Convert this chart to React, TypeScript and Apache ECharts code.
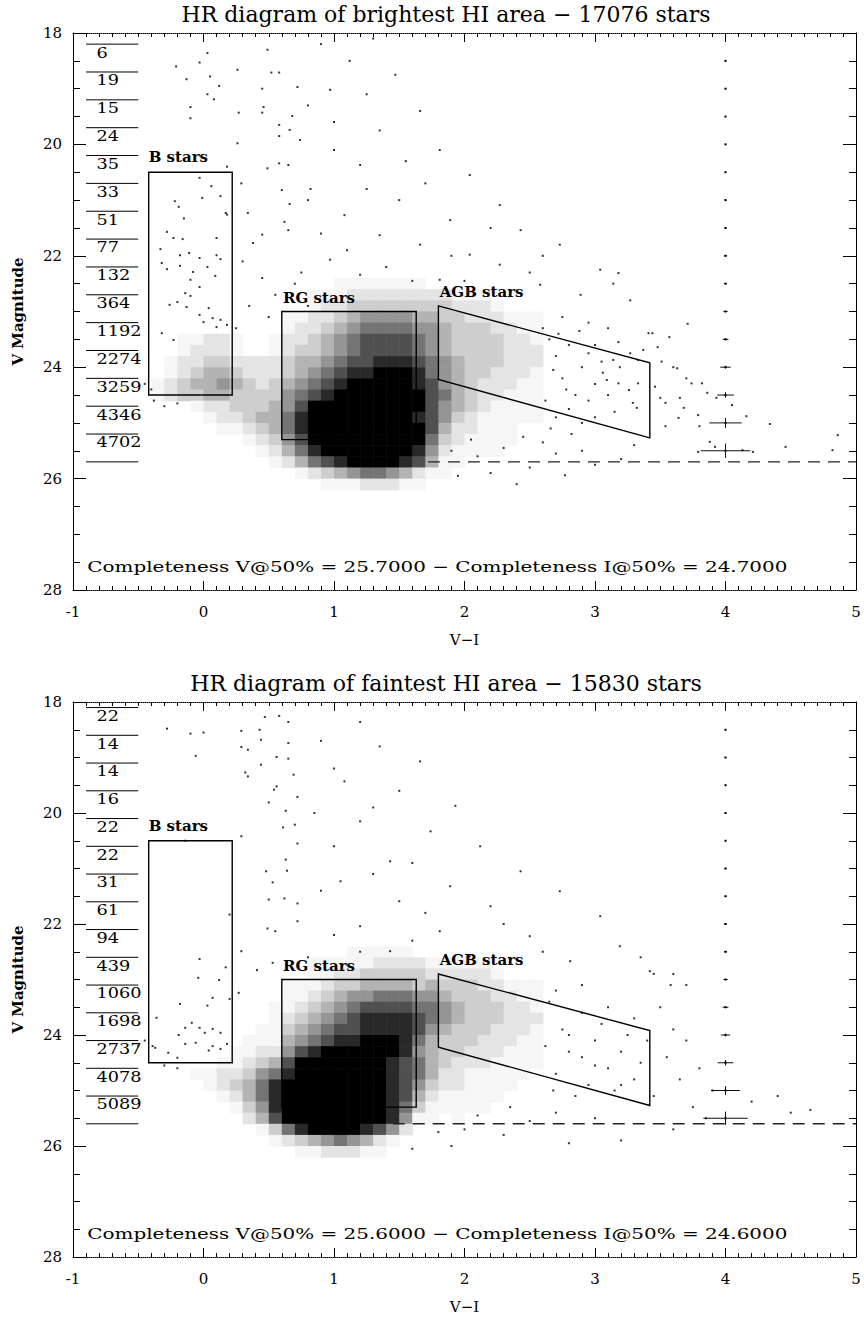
import React, { useEffect, useRef } from "react";
import * as echarts from "echarts";

const FONT = '"DejaVu Serif", "Liberation Serif", serif';

// ---------- axes ----------
const X_MIN = -1;
const X_MAX = 5;
const X_STEP = 1;
const V_MIN = 18;
const V_MAX = 28;
const V_STEP = 2;

// ---------- panel texts ----------
const panelTitles = [
  "HR diagram of brightest HI area \u2212 17076 stars",
  "HR diagram of faintest HI area \u2212 15830 stars",
];
const completenessV = [25.7, 25.6];
const completenessI = [24.7, 24.6];
const dashStartX = [1.72, 1.45];
const completenessTextX = -0.89;
const completenessTextV = 27.58;

// ---------- magnitude histogram (counts per 0.5 mag bin) ----------
const countBinStart = [18.2, 18.1];
const countBinWidth = 0.5;
const topCounts = [6, 19, 15, 24, 35, 33, 51, 77, 132, 364, 1192, 2274, 3259, 4346, 4702];
const bottomCounts = [22, 14, 14, 16, 22, 22, 31, 61, 94, 439, 1060, 1698, 2737, 4078, 5089];
const countLineX = [-0.9, -0.5];
const countLabelX = -0.82;

// ---------- selection boxes ----------
const boxNames = ["B stars", "RG stars", "AGB stars"];
const bBox = [[-0.42, 20.5], [0.22, 20.5], [0.22, 24.5], [-0.42, 24.5]];
const rgBox = [[0.6, 23.0], [1.63, 23.0], [1.63, 25.3], [0.6, 25.3]];
const agbBox = [[1.8, 22.9], [3.42, 23.92], [3.42, 25.27], [1.8, 24.22]];
const boxLabelX = [-0.42, 0.61, 1.81];
const boxLabelV = [20.23, 22.76, 22.65];

// ---------- photometric error bars at V-I = 4 ----------
const errX = 4;
const errV = [18.5, 19.0, 19.5, 20.0, 20.5, 21.0, 21.5, 22.0, 22.5, 23.0, 23.5, 24.0, 24.5, 25.0, 25.5];
const topErrX = [0.005, 0.005, 0.005, 0.005, 0.005, 0.008, 0.008, 0.012, 0.012, 0.016, 0.022, 0.04, 0.064, 0.124, 0.19];
const topErrV = [0.003, 0.003, 0.003, 0.003, 0.003, 0.003, 0.003, 0.005, 0.008, 0.01, 0.015, 0.025, 0.05, 0.09, 0.13];
const bottomErrX = [0.005, 0.005, 0.005, 0.005, 0.005, 0.008, 0.008, 0.012, 0.012, 0.016, 0.022, 0.035, 0.06, 0.11, 0.17];
const bottomErrV = [0.003, 0.003, 0.003, 0.003, 0.003, 0.003, 0.003, 0.005, 0.008, 0.01, 0.015, 0.025, 0.05, 0.08, 0.12];

// ---------- star density (dense regions) ----------
// one string per 0.2 mag row (from V=22.4 down), one digit (0-9) per 0.1 colour column (from V-I=-0.5)
const densityX0 = -0.5;
const densityV0 = 22.4;
const densityDX = 0.1;
const densityDV = 0.2;
const topDensity = [
  "0000000000000001111111000000000",
  "0000000000000111222222221110000",
  "0000000000000122333333332221000",
  "0000000000011223455554433222111",
  "0000000000012234566665543332211",
  "0001122100122345677776543333221",
  "0001222100123345677776543333222",
  "0012233222234456778887654333222",
  "0012344322234567889998654332221",
  "0123445432345678999998754322211",
  "0123344333356789999999764322111",
  "0000122333457999999999754321111",
  "0000012234468999999998753211111",
  "0000001123468999999999742211100",
  "0000000012357999999999632111100",
  "0000000001246899999998521111000",
  "0000000000124678999987411000000",
  "0000000000001234566542110000000",
  "0000000000000011122211000000000",
];
const bottomDensity = [
  "0000000000000000111110000000000",
  "0000000000000111112222111110000",
  "0000000000000112233333222221000",
  "0000000000011123344443433322111",
  "0000000000011234556665543332211",
  "0000000000112345677776654333221",
  "0000000000123456788887654333222",
  "0000000001134567788887543332221",
  "0000000011145678899986433322211",
  "0000000112257899999985433222111",
  "0000001123479999999876432221111",
  "0000112235689999999876422111110",
  "0000012346899999999875322111100",
  "0000001246899999999874211111000",
  "0000000135899999999863111110000",
  "0000000024799999999851101000000",
  "0000000001368999987520000000000",
  "0000000000123456542100000000000",
  "0000000000001122211000000000000",
];

// ---------- individual stars in the sparse regions [V-I, V] ----------
const topStars = [
  [0.03, 18.36], [-0.03, 18.53], [-0.21, 18.6], [0.49, 18.3], [0.26, 18.66], [0.05, 18.78], [0.12, 18.95], [-0.13, 18.83],
  [0.52, 18.71], [0.58, 18.71], [0.45, 19.0], [0.72, 18.97], [0.03, 19.1], [0.08, 19.19], [-0.1, 19.33], [-0.1, 19.53],
  [0.27, 19.43], [0.46, 19.33], [0.45, 19.43], [0.68, 19.49], [0.58, 19.65], [0.66, 19.74], [0.58, 19.85], [0.26, 19.98],
  [0.49, 20.43], [0.58, 20.34], [0.65, 20.37], [0.18, 20.4], [0.29, 20.7], [0.6, 20.82], [0.66, 21.07], [0.34, 21.23],
  [0.45, 21.62], [0.38, 21.77], [0.62, 21.39], [0.65, 21.54],
  [1.12, 18.5], [1.47, 18.75], [0.97, 19.02], [1.66, 19.4], [1.35, 19.75], [0.74, 19.92], [1.81, 20.1], [1.2, 20.37],
  [2.04, 20.55], [0.82, 20.8], [1.5, 21.0], [2.27, 21.09], [1.08, 21.27], [1.89, 21.36], [2.43, 21.54], [1.35, 21.63],
  [1.66, 21.8], [2.73, 21.8], [2.04, 21.98], [0.97, 22.07], [2.27, 22.16], [3.04, 22.25], [1.2, 22.34], [1.81, 22.43],
  [2.58, 22.52], [3.27, 22.8], [2.89, 22.7], [3.18, 22.31], [3.14, 22.5],
  [0.9, 18.2], [1.3, 18.1], [0.8, 19.3], [1.0, 19.6], [1.25, 19.1], [1.55, 20.3], [1.0, 20.1], [0.9, 21.6], [1.1, 21.9],
  [1.7, 20.7], [2.2, 21.5], [1.4, 22.2], [1.9, 22.0], [0.75, 22.3], [1.6, 22.45], [2.5, 22.3], [2.0, 22.45], [0.8, 21.0],
  [1.25, 20.8], [2.6, 22.0],
  [-0.03, 20.6], [0.06, 20.75], [-0.01, 20.96], [0.13, 20.93], [-0.22, 21.02], [-0.19, 21.12], [-0.15, 21.33], [0.17, 21.23],
  [0.18, 21.26], [-0.28, 21.57], [-0.23, 21.68], [-0.16, 21.7], [0.1, 21.68], [-0.33, 21.88], [-0.18, 21.99], [-0.11, 21.95],
  [-0.03, 22.04], [0.1, 21.99], [0.13, 22.06], [-0.32, 22.13], [-0.28, 22.24], [-0.18, 22.18], [-0.08, 22.29], [0.03, 22.2],
  [0.09, 22.36], [-0.1, 22.43], [-0.03, 22.56], [-0.14, 22.67], [-0.1, 22.72], [-0.2, 22.83], [-0.26, 22.88], [-0.13, 22.92],
  [0.04, 22.94], [-0.03, 23.06], [0.07, 23.12], [0.13, 23.15], [0.0, 23.19], [0.1, 23.28], [0.18, 23.24], [-0.23, 23.51],
  [-0.32, 23.39],
  [0.3, 22.1], [0.45, 22.4], [0.35, 22.9], [0.5, 23.1], [0.25, 23.3], [0.55, 22.7], [0.7, 22.5], [0.8, 22.9],
  [2.65, 23.5], [2.7, 23.8], [2.75, 24.2], [2.8, 23.6], [2.85, 24.5], [2.9, 24.0], [2.95, 23.75], [3.0, 24.3], [2.62, 24.6],
  [2.7, 24.9], [2.8, 24.75], [3.0, 24.9], [3.05, 23.9], [2.9, 25.0], [2.68, 24.05], [2.78, 24.4], [2.95, 24.6], [3.1, 24.5],
  [2.6, 23.3], [2.72, 23.4], [2.88, 23.35], [3.0, 23.6], [2.66, 25.1], [2.82, 25.2], [3.14, 23.87], [3.19, 24.0], [3.27, 23.75],
  [3.33, 23.87], [3.37, 23.69], [3.09, 24.23], [3.18, 24.29], [3.26, 24.41], [3.33, 24.29], [3.29, 24.64], [3.32, 24.73],
  [3.15, 24.8], [3.06, 24.1], [3.41, 23.39], [3.18, 23.55], [2.75, 23.1], [2.95, 23.2], [3.1, 23.3],
  [3.71, 23.22], [3.44, 23.39], [3.48, 23.64], [3.57, 23.46], [3.51, 23.9], [3.6, 24.0], [3.63, 24.02], [3.7, 24.2],
  [3.74, 24.29], [3.82, 24.29], [3.46, 24.35], [3.5, 24.55], [3.54, 24.64], [3.65, 24.55], [3.68, 24.73], [3.64, 24.91],
  [3.54, 25.06], [3.79, 24.86], [3.8, 25.06], [3.86, 24.46], [3.93, 24.55], [4.05, 24.68], [4.16, 24.88], [4.34, 25.02],
  [3.79, 25.52], [3.88, 25.34], [3.92, 25.43], [4.13, 25.49], [4.21, 25.52], [4.46, 25.43], [4.82, 25.49], [4.86, 25.22],
  [1.9, 25.5], [2.1, 25.6], [2.3, 25.45], [2.5, 25.8], [2.7, 25.55], [2.9, 25.5], [3.2, 25.65], [2.2, 25.9], [3.0, 25.75],
  [2.4, 26.1], [1.95, 25.95], [2.77, 25.94], [2.6, 25.35], [3.3, 25.4], [2.05, 25.3], [2.45, 25.25],
  [-0.38, 24.6], [-0.3, 24.7], [-0.2, 24.65], [-0.45, 24.3], [-0.4, 24.4],
];
const bottomStars = [
  [-0.28, 18.48], [-0.1, 18.57], [0.0, 18.55], [-0.06, 18.97], [0.29, 18.52], [0.43, 18.5], [0.44, 18.68], [0.29, 18.81],
  [0.34, 18.86], [0.47, 18.27], [0.58, 18.25], [0.65, 18.36], [0.65, 18.74], [0.56, 18.99], [0.44, 19.13], [0.65, 19.02],
  [0.32, 19.27], [0.34, 19.34], [0.69, 19.31], [0.56, 19.52], [0.54, 19.58], [0.5, 19.81], [0.72, 19.71], [0.63, 19.96],
  [0.61, 20.26], [0.7, 20.21], [0.29, 20.42], [0.72, 20.55], [0.63, 20.84], [0.48, 21.05], [0.64, 21.04], [0.53, 21.25],
  [-0.14, 20.5],
  [0.5, 21.56], [0.62, 21.54], [0.72, 21.63], [0.2, 21.83], [0.72, 21.95], [0.49, 22.08], [0.55, 22.13], [0.29, 22.49],
  [0.41, 22.83], [0.53, 22.7], [-0.03, 22.63], [0.17, 22.78], [-0.04, 22.97], [0.12, 23.01], [0.27, 23.24], [0.07, 23.33],
  [-0.18, 23.44], [0.03, 23.47], [0.2, 23.35], [-0.36, 23.69], [-0.09, 23.78], [-0.14, 23.87], [-0.03, 23.87], [0.07, 23.89],
  [-0.19, 24.0], [0.01, 23.96], [0.13, 23.96], [-0.14, 24.16], [-0.06, 24.14], [0.07, 24.2], [0.13, 24.25], [0.18, 24.16],
  [0.04, 24.28], [-0.27, 24.32], [-0.2, 24.41], [-0.37, 24.23], [-0.39, 24.2],
  [1.2, 18.36], [1.35, 18.8], [1.66, 19.07], [1.08, 19.43], [1.5, 19.6], [1.93, 19.87], [1.2, 20.15], [1.74, 20.33],
  [2.12, 20.6], [1.43, 20.87], [2.43, 21.05], [1.05, 21.23], [1.89, 21.32], [2.73, 21.41], [1.5, 21.59], [2.2, 21.68],
  [3.04, 21.86], [1.2, 22.04], [1.81, 22.13], [2.5, 22.22], [3.19, 22.4], [1.43, 22.49], [2.04, 22.58], [2.81, 22.67],
  [3.42, 22.85],
  [0.9, 18.7], [1.0, 19.2], [0.85, 20.0], [1.3, 19.9], [1.0, 20.6], [1.6, 20.9], [0.9, 21.4], [1.3, 21.1], [1.7, 21.8],
  [2.3, 22.0], [1.0, 22.2], [1.6, 22.3], [2.6, 22.5], [0.8, 22.6], [1.2, 22.5], [3.35, 22.6], [3.6, 22.9], [3.7, 23.1],
  [2.65, 23.4], [2.75, 23.9], [2.8, 24.3], [2.9, 23.6], [3.0, 24.1], [3.1, 24.6], [2.7, 24.7], [2.95, 24.9], [3.2, 24.3],
  [3.3, 24.8], [2.85, 25.1], [3.05, 23.8], [3.25, 24.0], [2.62, 24.2], [3.15, 25.0], [3.35, 24.5], [3.5, 23.5], [3.6, 23.9],
  [3.55, 24.4], [3.7, 24.1], [3.65, 24.8], [3.8, 24.6], [3.45, 25.1], [3.75, 25.3], [3.9, 25.0], [4.2, 25.2], [4.5, 25.4],
  [4.65, 25.35], [3.58, 23.1], [3.45, 22.9], [3.85, 25.5], [3.6, 25.7], [4.4, 25.1], [2.7, 23.2], [2.9, 23.1], [3.1, 23.5],
  [3.3, 23.7], [2.8, 24.0], [3.0, 24.55], [2.68, 25.0], [3.2, 24.9], [2.9, 24.4], [3.4, 24.1],
  [1.8, 25.75], [2.0, 25.7], [2.3, 25.8], [2.8, 25.95], [3.2, 25.9], [1.6, 26.05], [1.9, 26.0], [2.1, 25.45], [2.5, 25.55],
  [2.7, 25.4], [3.0, 25.5], [2.35, 25.3],
  [-0.45, 24.1], [-0.5, 24.2], [-0.3, 24.55], [-0.2, 24.6],
];

// ---------- per-panel data bundles ----------
const panels = [
  { title: panelTitles[0], density: topDensity, stars: topStars, counts: topCounts, binStart: countBinStart[0], errX: topErrX, errV: topErrV, compV: completenessV[0], compI: completenessI[0], dashX: dashStartX[0] },
  { title: panelTitles[1], density: bottomDensity, stars: bottomStars, counts: bottomCounts, binStart: countBinStart[1], errX: bottomErrX, errV: bottomErrV, compV: completenessV[1], compI: completenessI[1], dashX: dashStartX[1] },
];
const boxes = [bBox, rgBox, agbBox];

function densityCells(rows: string[]) {
  const out: number[][] = [];
  rows.forEach((row, r) => {
    for (let c = 0; c < row.length; c++) {
      const d = Number(row[c]);
      if (d > 0) out.push([+(densityX0 + c * densityDX).toFixed(2), +(densityV0 + r * densityDV).toFixed(2), d]);
    }
  });
  return out;
}

const GRID_TOPS = [33, 702];
const GRID_HEIGHTS = [557, 555];

function xAxes(gi: number) {
  const common = {
    type: "value",
    gridIndex: gi,
    min: X_MIN,
    max: X_MAX,
    interval: X_STEP,
    axisLine: { show: true, onZero: false, lineStyle: { color: "#000", width: 1, type: "dotted" } },
    axisTick: { show: true, inside: true, length: 9, lineStyle: { color: "#000", width: 1 } },
    minorTick: { show: true, splitNumber: 10, length: 4, lineStyle: { color: "#000", width: 1 } },
    splitLine: { show: false },
    minorSplitLine: { show: false },
  };
  return [
    {
      ...common,
      position: "bottom",
      name: "V\u2212I",
      nameLocation: "middle",
      nameGap: 42,
      nameTextStyle: { fontFamily: FONT, fontSize: 15, color: "#000" },
      axisLabel: { show: true, fontFamily: FONT, fontSize: 15, color: "#000", margin: 14 },
    },
    { ...common, position: "top", axisLabel: { show: false } },
  ];
}

function yAxes(gi: number) {
  const common = {
    type: "value",
    gridIndex: gi,
    inverse: true,
    min: V_MIN,
    max: V_MAX,
    interval: V_STEP,
    axisLine: { show: true, onZero: false, lineStyle: { color: "#000", width: 1 } },
    axisTick: { show: true, inside: true, length: 13, lineStyle: { color: "#000", width: 1 } },
    minorTick: { show: true, splitNumber: 4, length: 7, lineStyle: { color: "#000", width: 1 } },
    splitLine: { show: false },
    minorSplitLine: { show: false },
  };
  return [
    {
      ...common,
      position: "left",
      name: "V Magnitude",
      nameLocation: "middle",
      nameGap: 48,
      nameTextStyle: { fontFamily: FONT, fontSize: 15, fontWeight: "bold", color: "#000" },
      axisLabel: { show: true, fontFamily: FONT, fontSize: 15, color: "#000", margin: 11 },
    },
    { ...common, position: "right", axisLabel: { show: false } },
  ];
}

function panelSeries(p: number) {
  const P = panels[p];
  const ax = { xAxisIndex: 2 * p, yAxisIndex: 2 * p };
  const series: any[] = [];

  // density cells
  series.push({
    type: "custom",
    ...ax,
    silent: true,
    data: densityCells(P.density),
    renderItem: (params: any, api: any) => {
      const x = api.value(0);
      const v = api.value(1);
      const d = api.value(2);
      const a = api.coord([x, v]);
      const b = api.coord([x + densityDX, v + densityDV]);
      const g = Math.round(255 * (1 - Math.pow(d / 9, 1.5)));
      return {
        type: "rect",
        shape: {
          x: Math.min(a[0], b[0]),
          y: Math.min(a[1], b[1]),
          width: Math.abs(b[0] - a[0]) + 0.6,
          height: Math.abs(b[1] - a[1]) + 0.6,
        },
        style: { fill: `rgb(${g},${g},${g})` },
      };
    },
  });

  // individual stars
  series.push({
    type: "scatter",
    ...ax,
    silent: true,
    symbol: "rect",
    symbolSize: 2,
    itemStyle: { color: "#000" },
    data: P.stars,
  });

  // completeness limit
  series.push({
    type: "line",
    ...ax,
    silent: true,
    symbol: "none",
    data: [[P.dashX, P.compV], [X_MAX, P.compV]],
    lineStyle: { color: "#222", width: 1.4, type: [12, 8] },
  });

  // selection boxes
  series.push({
    type: "custom",
    ...ax,
    silent: true,
    data: boxes.map((b, i) => [b[0][0], b[0][1], i]),
    renderItem: (params: any, api: any) => {
      const corners = boxes[api.value(2)];
      return {
        type: "polygon",
        shape: { points: corners.map((c) => api.coord(c)) },
        style: { fill: "none", stroke: "#000", lineWidth: 1.4 },
      };
    },
  });

  // box labels
  series.push({
    type: "custom",
    ...ax,
    silent: true,
    data: boxLabelX.map((x, i) => [x, boxLabelV[i], i]),
    renderItem: (params: any, api: any) => {
      const pt = api.coord([api.value(0), api.value(1)]);
      return {
        type: "text",
        x: pt[0],
        y: pt[1],
        style: {
          text: boxNames[api.value(2)],
          fill: "#000",
          font: `bold 15px ${FONT}`,
          textAlign: "left",
          textVerticalAlign: "middle",
          align: "left",
          verticalAlign: "middle",
        },
      };
    },
  });

  // histogram bin lines
  const lineVs = P.counts.map((_, i) => +(P.binStart + i * countBinWidth).toFixed(2));
  lineVs.push(+(P.binStart + P.counts.length * countBinWidth).toFixed(2));
  series.push({
    type: "custom",
    ...ax,
    silent: true,
    data: lineVs.map((v) => [countLineX[0], v]),
    renderItem: (params: any, api: any) => {
      const v = api.value(1);
      const a = api.coord([countLineX[0], v]);
      const b = api.coord([countLineX[1], v]);
      return {
        type: "line",
        shape: { x1: a[0], y1: a[1], x2: b[0], y2: b[1] },
        style: { stroke: "#000", lineWidth: 1 },
      };
    },
  });

  // histogram counts
  series.push({
    type: "custom",
    ...ax,
    silent: true,
    data: P.counts.map((c, i) => [countLabelX, +(P.binStart + i * countBinWidth + 0.15).toFixed(2), c]),
    renderItem: (params: any, api: any) => {
      const pt = api.coord([api.value(0), api.value(1)]);
      return {
        type: "text",
        x: pt[0],
        y: pt[1],
        scaleX: 1.18,
        style: {
          text: String(api.value(2)),
          fill: "#000",
          font: `15px ${FONT}`,
          textAlign: "left",
          textVerticalAlign: "middle",
          align: "left",
          verticalAlign: "middle",
        },
      };
    },
  });

  // error bars
  series.push({
    type: "custom",
    ...ax,
    silent: true,
    data: errV.map((v, i) => [errX, v, P.errX[i], P.errV[i]]),
    renderItem: (params: any, api: any) => {
      const x = api.value(0);
      const v = api.value(1);
      const ex = api.value(2);
      const ev = api.value(3);
      const l = api.coord([x - ex, v]);
      const r = api.coord([x + ex, v]);
      const t = api.coord([x, v - ev]);
      const b = api.coord([x, v + ev]);
      const c = api.coord([x, v]);
      return {
        type: "group",
        children: [
          { type: "line", shape: { x1: l[0], y1: l[1], x2: r[0], y2: r[1] }, style: { stroke: "#111", lineWidth: 1 } },
          { type: "line", shape: { x1: t[0], y1: t[1], x2: b[0], y2: b[1] }, style: { stroke: "#111", lineWidth: 1 } },
          { type: "rect", shape: { x: c[0] - 1, y: c[1] - 1, width: 2, height: 2 }, style: { fill: "#000" } },
        ],
      };
    },
  });

  // completeness annotation
  const compText = `Completeness V@50% = ${P.compV.toFixed(4)} \u2212 Completeness I@50% = ${P.compI.toFixed(4)}`;
  series.push({
    type: "custom",
    ...ax,
    silent: true,
    data: [[completenessTextX, completenessTextV]],
    renderItem: (params: any, api: any) => {
      const pt = api.coord([api.value(0), api.value(1)]);
      return {
        type: "text",
        x: pt[0],
        y: pt[1],
        scaleX: 1.33,
        style: {
          text: compText,
          fill: "#000",
          font: `15px ${FONT}`,
          textAlign: "left",
          textVerticalAlign: "middle",
          align: "left",
          verticalAlign: "middle",
        },
      };
    },
  });

  return series;
}

export default function App() {
  const ref = useRef<HTMLDivElement>(null);
  useEffect(() => {
    if (!ref.current) return;
    const chart = echarts.init(ref.current, undefined, { renderer: "svg" });
    const option: any = {
      animation: false,
      backgroundColor: "#fff",
      title: panels.map((P, i) => ({
        text: P.title,
        left: 446,
        top: [3, 672][i],
        textAlign: "center",
        padding: 0,
        textStyle: { fontFamily: FONT, fontSize: 22, fontWeight: "normal", color: "#000" },
      })),
      grid: GRID_TOPS.map((top, i) => ({
        left: 73,
        right: 8,
        top,
        height: GRID_HEIGHTS[i],
        containLabel: false,
        outerBoundsMode: "none",
      })),
      xAxis: [...xAxes(0), ...xAxes(1)],
      yAxis: [...yAxes(0), ...yAxes(1)],
      series: [...panelSeries(0), ...panelSeries(1)],
    };
    chart.setOption(option);
    return () => chart.dispose();
  }, []);
  return (
    <div
      ref={ref}
      style={{ position: "absolute", left: 0, top: 0, width: 864, height: 1317, background: "#fff" }}
    />
  );
}
